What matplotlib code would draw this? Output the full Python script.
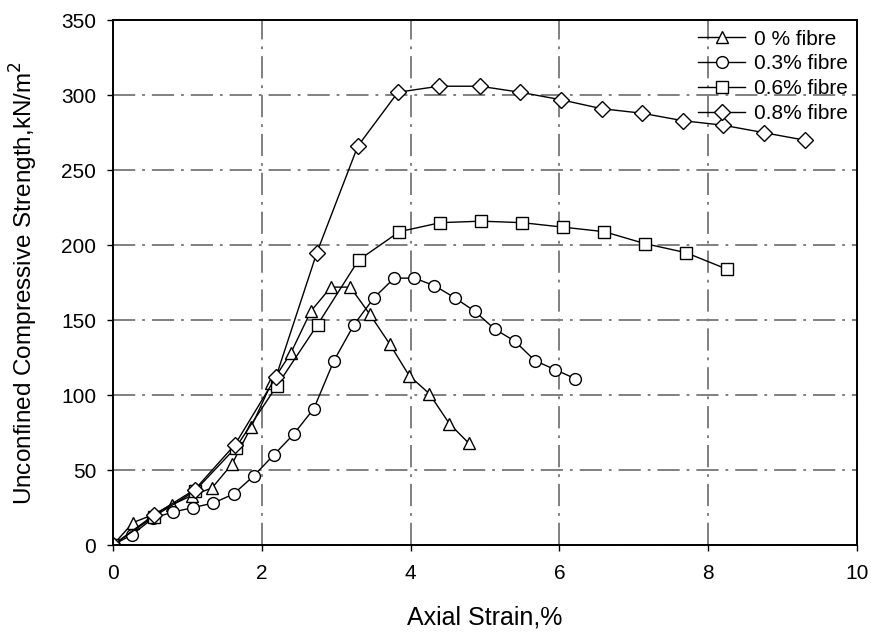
import matplotlib
matplotlib.use("Agg")
import matplotlib.pyplot as plt

plt.rcParams['font.family'] = ['Liberation Sans', 'DejaVu Sans']
plt.rcParams['lines.scale_dashes'] = False

# datos (deformacion axial %, resistencia kN/m2)
x_0 = [0, 0.27, 0.53, 0.80, 1.06, 1.33, 1.60, 1.86, 2.13, 2.39, 2.66, 2.93, 3.19,
       3.45, 3.72, 3.98, 4.25, 4.52, 4.78]
y_0 = [0, 15, 20, 27, 33, 38, 54, 79, 108, 128, 156, 172, 172,
       154, 134, 113, 101, 81, 68]

x_03 = [0, 0.26, 0.54, 0.81, 1.08, 1.35, 1.62, 1.89, 2.16, 2.43, 2.70, 2.97, 3.24,
        3.51, 3.78, 4.05, 4.32, 4.59, 4.86, 5.13, 5.40, 5.67, 5.94, 6.21]
y_03 = [0, 7, 18, 22, 25, 28, 34, 46, 60, 74, 91, 123, 147,
        165, 178, 178, 173, 165, 156, 144, 136, 123, 117, 111]

x_06 = [0, 0.55, 1.10, 1.65, 2.20, 2.75, 3.30, 3.85, 4.40, 4.95, 5.50, 6.05,
        6.60, 7.15, 7.70, 8.25]
y_06 = [0, 19, 36, 65, 106, 147, 190, 209, 215, 216, 215, 212,
        209, 201, 195, 184]

x_08 = [0, 0.55, 1.10, 1.64, 2.19, 2.74, 3.29, 3.83, 4.38, 4.93, 5.47, 6.02,
        6.57, 7.11, 7.66, 8.20, 8.75, 9.30]
y_08 = [0, 20, 37, 67, 112, 195, 266, 302, 306, 306, 302, 297,
        291, 288, 283, 280, 275, 270]

fig = plt.figure(figsize=(8.71, 6.33), dpi=100)
ax = fig.add_axes([0.1297, 0.139, 0.8543, 0.829])

estilo = dict(color='black', lw=1.0, markerfacecolor='white',
              markeredgecolor='black', markeredgewidth=1.0)
ax.plot(x_0, y_0, marker='^', ms=9, label='0 % fibre', **estilo)
ax.plot(x_03, y_03, marker='o', ms=8.5, label='0.3% fibre', **estilo)
ax.plot(x_06, y_06, marker='s', ms=8.5, label='0.6% fibre', **estilo)
ax.plot(x_08, y_08, marker='D', ms=8.5, label='0.8% fibre', **estilo)

ax.set_xlim(0, 10)
ax.set_ylim(0, 350)
ax.set_xticks([0, 2, 4, 6, 8, 10])
ax.set_yticks(range(0, 351, 50))
ax.grid(True, color='#808080', lw=1.4, linestyle=(0, (16, 5, 2, 5)))
ax.set_axisbelow(True)
for s in ax.spines.values():
    s.set_linewidth(1.4)
ax.tick_params(direction='out', length=4, width=1, labelsize=15)
ax.tick_params(axis='x', pad=10)
ax.tick_params(axis='y', pad=8)

ax.set_xlabel('Axial Strain,%', fontsize=18, labelpad=16)
ax.set_ylabel('Unconfined Compressive Strength,kN/m$^2$', fontsize=17.5, labelpad=15)

ax.legend(loc='upper right', frameon=False, fontsize=15, handlelength=2.3,
          handletextpad=0.4, labelspacing=0.28, borderaxespad=0.25,
          borderpad=0.2)

fig.savefig('out.png', dpi=100)
